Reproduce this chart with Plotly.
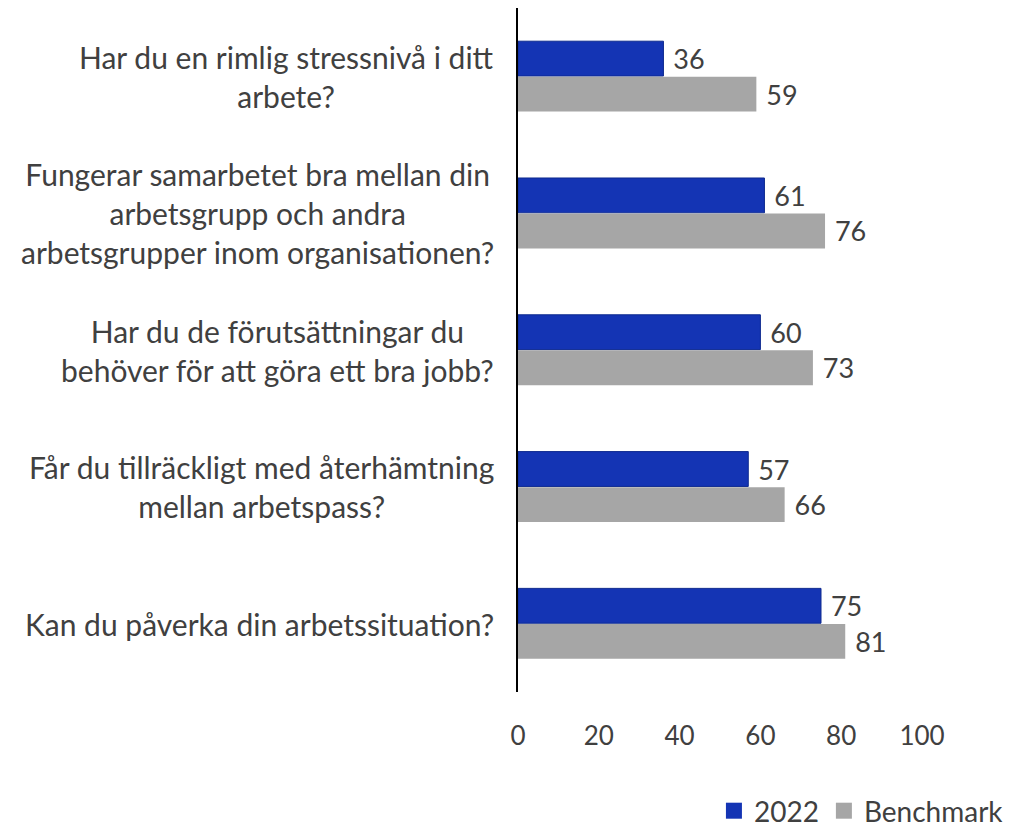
import plotly.graph_objects as go

questions = [
    "Har du en rimlig stressnivå i ditt<br>arbete?",
    "Fungerar samarbetet bra mellan din<br>arbetsgrupp och andra<br>arbetsgrupper inom organisationen?",
    "Har du de förutsättningar du<br>behöver för att göra ett bra jobb?",
    "Får du tillräckligt med återhämtning<br>mellan arbetspass?",
    "Kan du påverka din arbetssituation?",
]
values_2022 = [36, 61, 60, 57, 75]
values_benchmark = [59, 76, 73, 66, 81]
x_ticks = [0, 20, 40, 60, 80, 100]

FONT = "Lato"
TEXT_COLOR = "#404040"
BLUE = "#1434B4"
GRAY = "#A6A6A6"
keys = [f"q{i}" for i in range(len(questions))]

fig = go.Figure()
fig.add_trace(go.Bar(
    name="2022", y=keys, x=values_2022, orientation="h",
    marker=dict(color=BLUE, line=dict(color="#0E2A8F", width=1)),
    text=values_2022, texttemplate=" %{x}", textposition="outside",
    textfont=dict(family=FONT, size=27, color=TEXT_COLOR),
    cliponaxis=False, showlegend=False,
))
fig.add_trace(go.Bar(
    name="Benchmark", y=keys, x=values_benchmark, orientation="h",
    marker=dict(color=GRAY, line=dict(width=0)),
    text=values_benchmark, texttemplate=" %{x}", textposition="outside",
    textfont=dict(family=FONT, size=27, color=TEXT_COLOR),
    cliponaxis=False, showlegend=False,
))

# Legend entries with square swatches
for name, color in [("2022", BLUE), ("Benchmark", GRAY)]:
    fig.add_trace(go.Scatter(
        x=[None], y=[None], mode="markers", name=name,
        marker=dict(symbol="square", size=16, color=color),
    ))

# Question labels, centred line by line and right-aligned next to the axis
for key, q in zip(keys, questions):
    fig.add_annotation(
        x=0, xref="paper", y=key, yref="y",
        xanchor="right", yanchor="middle", align="center",
        xshift=-22, text=q, showarrow=False,
        font=dict(family=FONT, size=30, color=TEXT_COLOR),
    )

fig.update_layout(
    width=1014, height=836,
    margin=dict(l=518, r=92, t=8, b=144),
    paper_bgcolor="white", plot_bgcolor="white",
    barmode="group", bargap=0.48, bargroupgap=0.02,
    font=dict(family=FONT, size=26, color=TEXT_COLOR),
    xaxis=dict(
        range=[0, 100], tickvals=x_ticks, showgrid=False, zeroline=False,
        showline=False, ticks="", ticklabelstandoff=26,
        tickfont=dict(family=FONT, size=26, color=TEXT_COLOR),
    ),
    yaxis=dict(
        autorange="reversed", showticklabels=False, showgrid=False,
        showline=True, linecolor="black", linewidth=2, ticks="",
    ),
    legend=dict(
        orientation="h", x=0.995, xanchor="right", xref="container",
        y=0.0, yanchor="bottom", yref="container",
        font=dict(family=FONT, size=28, color=TEXT_COLOR),
        itemwidth=30, traceorder="normal", itemsizing="trace",
    ),
)

fig.write_html("out.html")
